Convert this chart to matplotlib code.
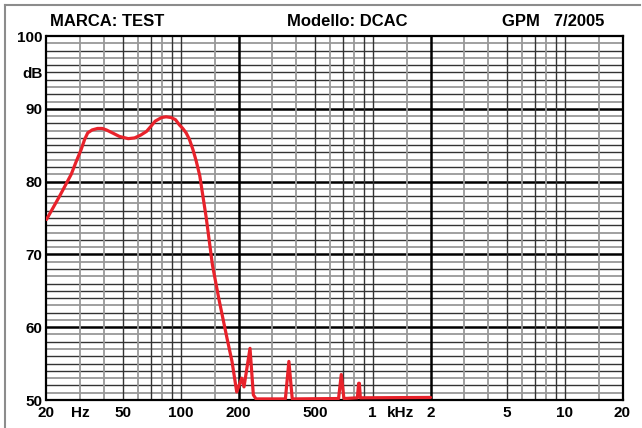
import matplotlib.pyplot as plt
import numpy as np
from matplotlib.lines import Line2D

# response curve (Hz, dB)
freq = [20, 20.3, 23.4, 26.9, 28.5, 30.3, 31.6, 32.8, 34.6, 36.9, 39.0, 41.0,
        44.0, 48.0, 53.3, 57.5, 62.0, 66.4, 70.0, 73.6, 79.5, 84.0, 89.0,
        94.0, 98.4, 102.5, 106.7, 111.0, 115.8, 120.5, 125.7, 135.7, 146.4,
        158.0, 174.2, 185.0, 195.8, 207.8, 213.6, 229.6, 239.0, 246.8,
        351, 366, 381, 664, 686, 708, 832, 845, 852, 862, 2000]
level = [74.8, 75.1, 78.0, 81.0, 82.7, 84.4, 85.8, 86.7, 87.1, 87.3, 87.3, 87.1,
         86.7, 86.2, 85.9, 86.0, 86.4, 86.9, 87.6, 88.3, 88.8, 88.9, 88.8,
         88.5, 87.8, 87.3, 86.7, 85.8, 84.4, 82.8, 80.8, 75.1, 68.5,
         63.9, 58.5, 55.3, 51.1, 53.0, 51.8, 57.1, 50.7, 50.15,
         50.15, 55.3, 50.15, 50.2, 53.5, 50.2, 50.3, 52.3, 52.3, 50.3, 50.35]

xtick_pos = [20, 30, 50, 100, 200, 500, 1000, 1400, 2000, 5000, 10000, 20000]
xtick_lab = ["20", "Hz", "50", "100", "200", "500", "1", "kHz", "2", "5", "10", "20"]
ytick_pos = [50, 60, 70, 80, 90, 95, 100]
ytick_lab = ["50", "60", "70", "80", "90", "dB", "100"]

plt.rcParams['font.family'] = ['Liberation Sans', 'DejaVu Sans']

fig = plt.figure(figsize=(6.42, 4.28), dpi=100)
ax = fig.add_axes([46.5/642, 28/428, 576/642, 364/428])
ax.set_xscale("log")
ax.set_xlim(20, 20000)
ax.set_ylim(50, 100)

# horizontal grid, every dB
for db in range(51, 100):
    if db % 10 == 0:
        ax.axhline(db, color="black", lw=1.8, zorder=1)
    elif db % 2 == 0 or db % 5 == 0:
        ax.axhline(db, color="#333333", lw=1.0, zorder=1)
    else:
        ax.axhline(db, color="#999999", lw=1.3, zorder=1)

# vertical grid, log paper
for dec in [10, 100, 1000, 10000]:
    for m in [1, 1.5, 2, 3, 4, 5, 6, 7, 8, 9]:
        f = dec * m
        if f <= 20 or f >= 20000:
            continue
        if f in (200, 2000):
            ax.axvline(f, color="black", lw=1.8, zorder=1)
        elif m in (1, 5, 7, 9):
            ax.axvline(f, color="#333333", lw=1.0, zorder=1)
        else:
            ax.axvline(f, color="#999999", lw=1.3, zorder=1)

ax.plot(freq, level, color="#e8222b", lw=2.3, zorder=3,
        solid_joinstyle="round", solid_capstyle="round")

for s in ax.spines.values():
    s.set_linewidth(1.6)
    s.set_zorder(2)

ax.xaxis.set_minor_locator(plt.NullLocator())
ax.set_xticks(xtick_pos)
ax.set_xticklabels(xtick_lab)
ax.set_yticks(ytick_pos)
ax.set_yticklabels(ytick_lab)
ax.tick_params(axis="x", length=0, labelsize=11, pad=4)
ax.tick_params(axis="y", length=0, labelsize=11, pad=3)
for t in ax.get_xticklabels() + ax.get_yticklabels():
    t.set_fontweight("bold")

fig.text(50/642, 1 - 21/428, "MARCA: TEST", fontsize=12, fontweight="bold", va="center", ha="left")
fig.text(347/642, 1 - 21/428, "Modello: DCAC", fontsize=12, fontweight="bold", va="center", ha="center")
fig.text(502/642, 1 - 21/428, "GPM   7/2005", fontsize=12, fontweight="bold", va="center", ha="left")

# outer page frame
fig.add_artist(Line2D([5/642, 640/642], [1 - 5/428, 1 - 5/428], color="#8c8c8c", lw=1.5))
fig.add_artist(Line2D([5/642, 5/642], [0, 1 - 5/428], color="#8c8c8c", lw=1.5))

fig.savefig("out.png", dpi=100)
